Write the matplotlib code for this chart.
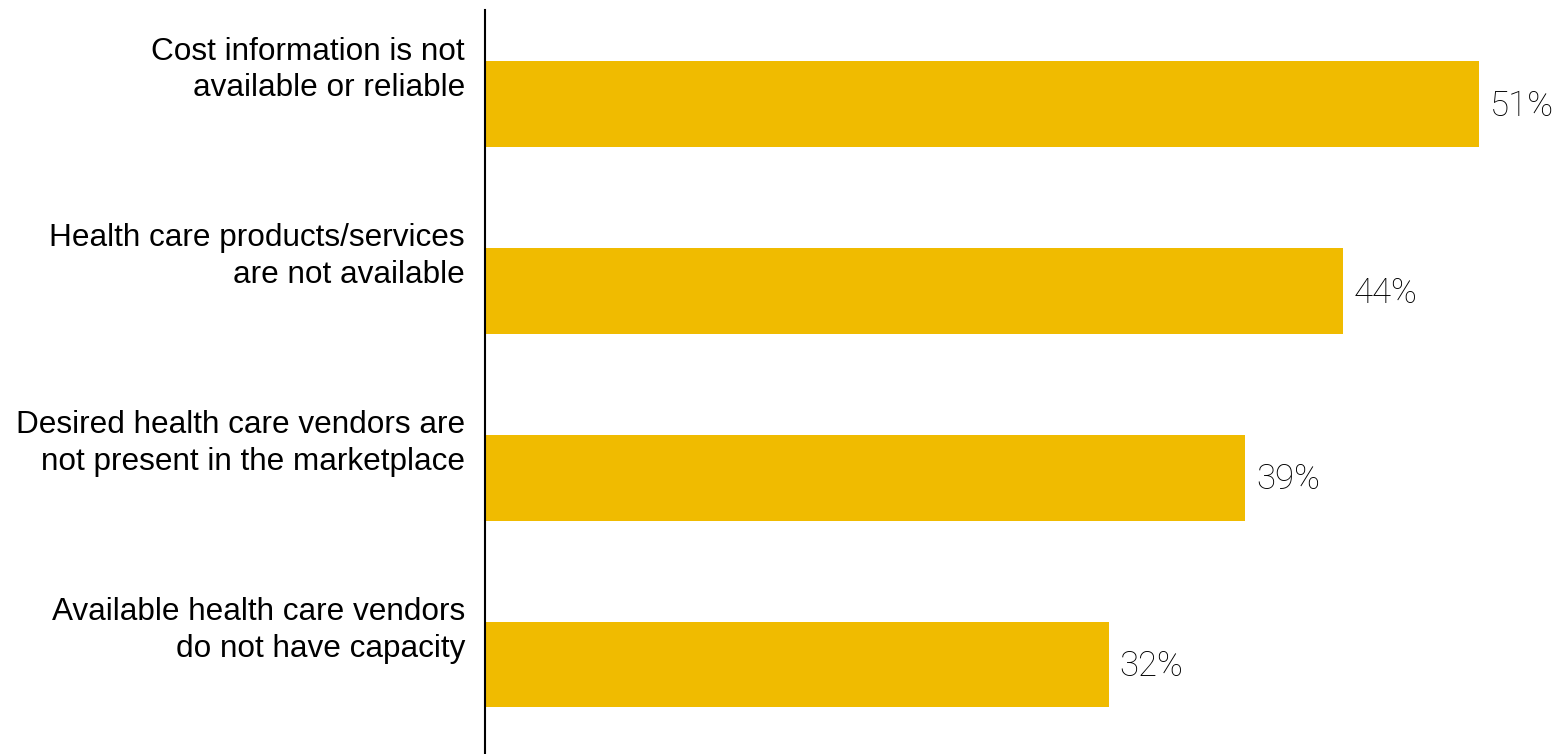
import matplotlib.pyplot as plt

# survey answers, top to bottom
categories = [
    "Cost information is not\navailable or reliable",
    "Health care products/services\nare not available",
    "Desired health care vendors are\nnot present in the marketplace",
    "Available health care vendors\ndo not have capacity",
]
values = [51, 44, 39, 32]

bar_color = "#F0BB00"

fig = plt.figure(figsize=(15.62, 7.54), dpi=100)
ax = fig.add_axes([485 / 1562, 0, 1 - 485 / 1562, 1 - 10 / 754])

pos = list(range(len(categories)))
ax.barh(pos, values, height=0.46, color=bar_color)

ax.set_xlim(0, 55.26)
ax.set_ylim(len(categories) - 1 + 0.479, -0.503)

# category labels sit a little above each bar
for i, lab in zip(pos, categories):
    ax.text(-0.0186, i - 0.182, lab, transform=ax.get_yaxis_transform(),
            ha="right", va="center", fontsize=22.7,
            family="Liberation Sans", color="black", linespacing=1.3)

# value labels at the end of the bars
for i, v in zip(pos, values):
    ax.annotate("%d%%" % v, xy=(v, i), xytext=(11, -2), textcoords="offset pixels",
                ha="left", va="center", fontsize=25, family="Roboto",
                fontweight="light", color="black")

ax.set_xticks([])
ax.set_yticks([])
for s in ["top", "right", "bottom"]:
    ax.spines[s].set_visible(False)
ax.spines["left"].set_linewidth(1.5)
ax.spines["left"].set_color("black")

fig.savefig("out.png", dpi=100)
